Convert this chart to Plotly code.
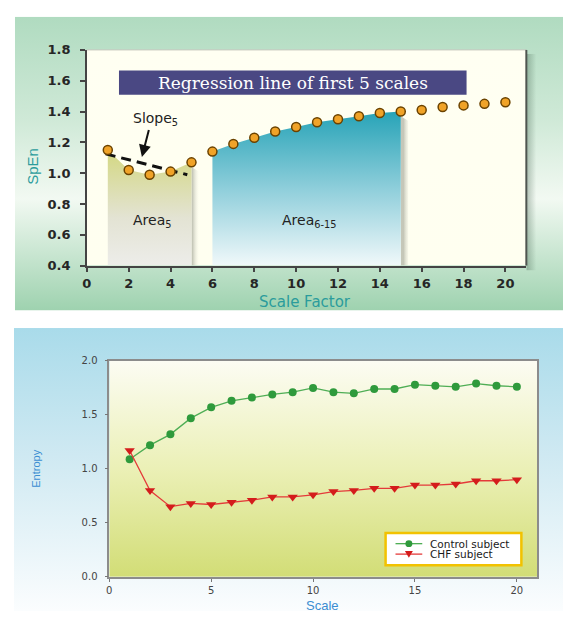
import base64
import plotly.graph_objects as go

# ---------------- data ----------------
scales = list(range(1, 21))
spen = [1.15, 1.02, 0.99, 1.01, 1.07, 1.14, 1.19, 1.23, 1.27, 1.30,
        1.33, 1.35, 1.37, 1.39, 1.40, 1.41, 1.43, 1.44, 1.45, 1.46]
reg_x = [0.9, 4.8]
reg_y = [1.125, 0.99]
area5_range = (1, 5)
area615_range = (6, 15)

control = [1.09, 1.22, 1.32, 1.47, 1.57, 1.63, 1.66, 1.69, 1.71, 1.75,
           1.71, 1.70, 1.74, 1.74, 1.78, 1.77, 1.76, 1.79, 1.77, 1.76]
chf = [1.17, 0.80, 0.65, 0.68, 0.67, 0.69, 0.71, 0.74, 0.74, 0.76,
       0.79, 0.80, 0.82, 0.82, 0.85, 0.85, 0.86, 0.89, 0.89, 0.90]
series_names = ["Control subject", "CHF subject"]

top_xticks = list(range(0, 21, 2))
top_yticks = [0.4, 0.6, 0.8, 1.0, 1.2, 1.4, 1.6, 1.8]
bot_xticks = [0, 5, 10, 15, 20]
bot_yticks = [0.0, 0.5, 1.0, 1.5, 2.0]

W, H = 563, 619
SHADOW_W = 0.35  # width of the soft shadow right of each area (x units)


def px(x):
    return x / W


def py(y):
    return 1 - y / H


def grad_uri(stops, vertical=True):
    s = ''.join(f'<stop offset="{o}" stop-color="{c}" stop-opacity="{a}"/>'
                for o, c, a in stops)
    x2, y2 = ("0", "1") if vertical else ("1", "0")
    svg = ('<svg xmlns="http://www.w3.org/2000/svg" width="100" height="100" '
           'viewBox="0 0 100 100" preserveAspectRatio="none"><defs>'
           f'<linearGradient id="g" x1="0" y1="0" x2="{x2}" y2="{y2}">{s}</linearGradient>'
           '</defs><rect width="100" height="100" fill="url(#g)"/></svg>')
    return 'data:image/svg+xml;base64,' + base64.b64encode(svg.encode()).decode()


def bg_image(stops, x0, y0, x1, y1, vertical=True):
    stops = [(s[0], s[1], s[2] if len(s) > 2 else 1) for s in stops]
    return dict(source=grad_uri(stops, vertical), xref='paper', yref='paper',
                x=px(x0), y=py(y0), sizex=px(x1) - px(x0), sizey=py(y0) - py(y1),
                sizing='stretch', xanchor='left', yanchor='top', layer='below')


fig = go.Figure()

# ---------------- top chart ----------------
ybase = top_yticks[0]
a5x = [x for x in scales if area5_range[0] <= x <= area5_range[1]]
a5y = [spen[x - 1] for x in a5x]
a6x = [x for x in scales if area615_range[0] <= x <= area615_range[1]]
a6y = [spen[x - 1] for x in a6x]

# soft shadows to the right of each area
for xs, ys in ((a5x, a5y), (a6x, a6y)):
    xe, ye = xs[-1], ys[-1]
    fig.add_trace(go.Scatter(
        x=[xe, xe, xe + SHADOW_W, xe + SHADOW_W], y=[ybase, ye - 0.03, ye - 0.06, ybase],
        fill='toself', mode='none', hoverinfo='skip', showlegend=False,
        fillgradient=dict(type='horizontal', start=xe, stop=xe + SHADOW_W,
                          colorscale=[[0, 'rgba(90,95,80,0.35)'], [1, 'rgba(255,255,240,0)']]),
        xaxis='x', yaxis='y'))

fig.add_trace(go.Scatter(
    x=[a5x[0]] + a5x + [a5x[-1]], y=[ybase] + a5y + [ybase],
    fill='toself', mode='none', hoverinfo='skip', showlegend=False,
    fillgradient=dict(type='vertical', start=ybase, stop=max(a5y),
                      colorscale=[[0, '#eeeeec'], [0.45, '#e3e3d3'], [1, '#d4d884']]),
    xaxis='x', yaxis='y'))

fig.add_trace(go.Scatter(
    x=[a6x[0]] + a6x + [a6x[-1]], y=[ybase] + a6y + [ybase],
    fill='toself', mode='none', hoverinfo='skip', showlegend=False,
    fillgradient=dict(type='vertical', start=ybase, stop=max(a6y),
                      colorscale=[[0, '#f7fbfc'], [0.5, '#93d0dc'], [1, '#29a4b8']]),
    xaxis='x', yaxis='y'))

fig.add_trace(go.Scatter(
    x=reg_x, y=reg_y, mode='lines', showlegend=False,
    line=dict(color='#111111', width=3, dash='10px,6px'), xaxis='x', yaxis='y'))

fig.add_trace(go.Scatter(
    x=scales, y=spen, mode='markers', showlegend=False,
    marker=dict(symbol='circle', size=9, color='#f0a328',
                line=dict(color='#6b4300', width=1.5)),
    xaxis='x', yaxis='y'))

# ---------------- bottom chart ----------------
fig.add_trace(go.Scatter(
    x=scales, y=control, mode='lines+markers', name=series_names[0], showlegend=False,
    line=dict(color='#4fae55', width=1.3),
    marker=dict(symbol='circle', size=8, color='#2f9a3c', line=dict(width=0)),
    xaxis='x2', yaxis='y2'))
fig.add_trace(go.Scatter(
    x=scales, y=chf, mode='lines+markers', name=series_names[1], showlegend=False,
    line=dict(color='#e43a3a', width=1.3),
    marker=dict(symbol='triangle-down', size=9, color='#d41c1c', line=dict(width=0)),
    xaxis='x2', yaxis='y2'))

# ---------------- axes ----------------
top_font = dict(family='DejaVu Sans', size=13, color='#262626', weight='bold')
bot_font = dict(family='DejaVu Sans', size=10, color='#444444')
fig.update_layout(
    xaxis=dict(domain=[px(82.6), px(526)], range=[0, 21], anchor='y',
               tickvals=top_xticks, ticks='outside', ticklen=5, tickcolor='#444',
               tickwidth=1.5, showline=True, linecolor='#444', linewidth=1.5,
               showgrid=False, zeroline=False, tickfont=top_font, ticklabelstandoff=0),
    yaxis=dict(domain=[py(265), py(44)], range=[0.4, 1.8], anchor='x',
               tickvals=top_yticks, tickformat='.1f', ticks='outside', ticklen=5,
               tickcolor='#444', tickwidth=1.5, showline=True, linecolor='#444',
               linewidth=1.5, showgrid=False, zeroline=False, tickfont=top_font,
               ticklabelstandoff=7),
    xaxis2=dict(domain=[px(105.2), px(537)], range=[0, 21], anchor='y2',
                tickvals=bot_xticks, ticks='outside', ticklen=3, tickcolor='#777',
                showline=True, mirror=True, linecolor='#8c8c8c', linewidth=1.5,
                showgrid=False, zeroline=False, tickfont=bot_font, ticklabelstandoff=0),
    yaxis2=dict(domain=[py(584), py(362.7)], range=[0, 2.0], anchor='x2',
                tickvals=bot_yticks, tickformat='.1f', ticks='outside', ticklen=3,
                tickcolor='#777', showline=True, mirror=True, linecolor='#8c8c8c',
                linewidth=1.5, showgrid=False, zeroline=False, tickfont=bot_font,
                ticklabelstandoff=5),
)

# ---------------- backgrounds ----------------
images = [
    bg_image([(0, '#b0dbc0'), (0.35, '#cfe9d7'), (0.62, '#f2f9f2'), (1, '#9ed2af')],
             10, 10, W, 311),
    bg_image([(0, '#a9dbea'), (0.45, '#cfe9f2'), (1, '#fbfdfe')], 9, 329, W, H),
    # shadow right of the top plot box
    bg_image([(0, '#3c5a46', 0.35), (1, '#3c5a46', 0)], 526, 48, 536, 270, vertical=False),
    bg_image([(0, '#fffff2'), (1, '#fffff0')], 82.6, 44, 526, 265),
    bg_image([(0, '#fcfcf3'), (0.5, '#ebf0b6'), (1, '#d2dd76')], 105.2, 362.7, 537, 584),
]

shapes = [
    # top plot frame: top & right edges
    dict(type='line', xref='paper', yref='paper', x0=px(82.6), x1=px(526),
         y0=py(44), y1=py(44), line=dict(color='#c8c8c0', width=1)),
    dict(type='line', xref='paper', yref='paper', x0=px(526), x1=px(526),
         y0=py(44), y1=py(265), line=dict(color='#4f5550', width=2)),
    # title box
    dict(type='rect', xref='paper', yref='paper', x0=px(115), x1=px(465.7),
         y0=py(90), y1=py(65), fillcolor='#4a4883', line=dict(width=0)),
    # legend box
    dict(type='rect', xref='paper', yref='paper', x0=px(384), x1=px(521),
         y0=py(572), y1=py(539), fillcolor='white', line=dict(color='#f2c200', width=2.5)),
    dict(type='line', xref='paper', yref='paper', x0=px(394), x1=px(421),
         y0=py(550), y1=py(550), line=dict(color='#4fae55', width=1.3)),
    dict(type='circle', xref='paper', yref='paper', x0=px(404), x1=px(411),
         y0=py(553.5), y1=py(546.5), fillcolor='#2f9a3c', line=dict(width=0)),
    dict(type='line', xref='paper', yref='paper', x0=px(394), x1=px(421),
         y0=py(560.7), y1=py(560.7), line=dict(color='#e43a3a', width=1.3)),
    dict(type='path', xref='paper', yref='paper',
         path=f'M {px(403.5)},{py(557.5)} L {px(411.5)},{py(557.5)} L {px(407.5)},{py(564.5)} Z',
         fillcolor='#d41c1c', line=dict(width=0)),
]

teal = '#2b9c9c'


def label(text, x, y, size, color, family='DejaVu Sans', xanchor='center', angle=0,
          xref='paper', yref='paper'):
    return dict(text=text, xref=xref, yref=yref, x=x, y=y, xanchor=xanchor,
                yanchor='middle', textangle=angle, showarrow=False,
                font=dict(family=family, size=size, color=color))


annotations = [
    label('Regression line of first 5 scales', px(290.4), py(77.5), 17, 'white',
          family='DejaVu Serif'),
    label('Slope<sub>5</sub>', 3.3, 1.35, 14, '#222', xref='x', yref='y'),
    dict(text='', xref='x', yref='y', axref='x', ayref='y', x=2.63, y=1.105,
         ax=2.98, ay=1.29, showarrow=True, arrowhead=2, arrowsize=1.2,
         arrowwidth=2, arrowcolor='#111'),
    label('Area<sub>5</sub>', 3.1, 0.69, 14, '#222', xref='x', yref='y'),
    label('Area<sub>6-15</sub>', 10.6, 0.69, 14, '#222', xref='x', yref='y'),
    label('SpEn', px(27), py(163), 15, teal, family='Liberation Sans', angle=-90),
    label('Scale Factor', px(303), py(302), 15, teal),
    label('Entropy', px(30.5), py(473), 11, '#3b8ed2', family='Liberation Sans', angle=-90),
    label('Scale', px(320.5), py(613), 13, '#3b8ed2', family='Liberation Sans'),
    label(series_names[0], px(427), py(550), 10.5, '#1a1a1a', xanchor='left'),
    label(series_names[1], px(427), py(561), 10.5, '#1a1a1a', xanchor='left'),
]

fig.update_layout(
    width=W, height=H, margin=dict(l=0, r=0, t=0, b=0),
    paper_bgcolor='white', plot_bgcolor='rgba(0,0,0,0)',
    images=images, shapes=shapes, annotations=annotations, showlegend=False,
)

fig.write_html("out.html")
